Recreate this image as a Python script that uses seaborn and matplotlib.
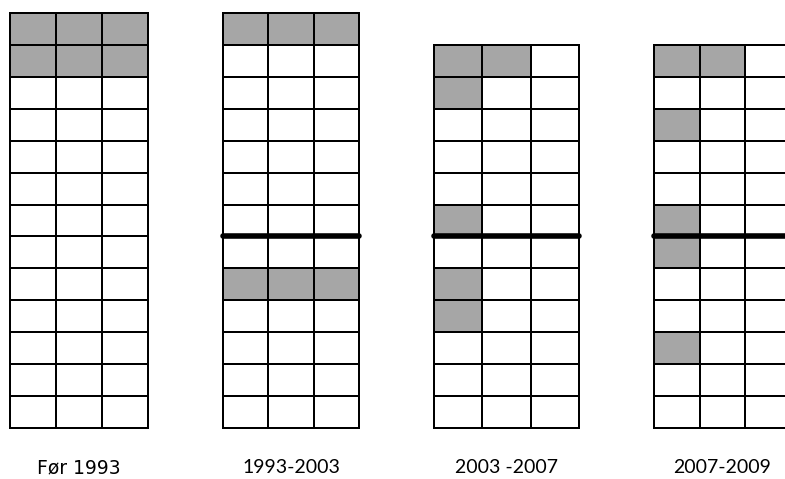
import numpy as np
import pandas as pd
import matplotlib
matplotlib.use("Agg")
import matplotlib.pyplot as plt
import seaborn as sns

from matplotlib.colors import ListedColormap

# --------------------------------------------------------------------------------
# Data: one grid per period, gray cells given as (row, col) from the top
# --------------------------------------------------------------------------------
periods     = ["Før 1993", "1993-2003", "2003 -2007", "2007-2009"]
n_rows      = [13, 13, 12, 12]
n_cols      = [3, 3, 3, 3]
gray_cells  = [
    [(0, 0), (0, 1), (0, 2), (1, 0), (1, 1), (1, 2)],
    [(0, 0), (0, 1), (0, 2), (8, 0), (8, 1), (8, 2)],
    [(0, 0), (0, 1), (1, 0), (5, 0), (7, 0), (8, 0)],
    [(0, 0), (0, 1), (2, 0), (5, 0), (6, 0), (9, 0)],
]
divider_row = [None, 7, 6, 6]   # thick line drawn above this row
label_fonts = [["DejaVu Sans"], ["Lato"], ["Lato"], ["Lato"]]
label_sizes = [13.5, 14, 14, 14]

# Axes placement in pixels (left, top, width, height) -> figure fractions
W, H = 785, 479
boxes = [(10, 13, 138, 415), (223, 13, 136, 415), (434, 45, 145, 383), (654, 45, 137, 383)]

GRAY  = "#a6a6a6"
cmap  = ListedColormap(["white", GRAY])

# ================================================================================
# Build the figure
# ================================================================================
sns.set_style("white")
fig = plt.figure(figsize=(W / 100, H / 100), dpi=100)

for i, label in enumerate(periods):
    grid = np.zeros((n_rows[i], n_cols[i]))
    for r, c in gray_cells[i]:
        grid[r, c] = 1
    df = pd.DataFrame(grid)

    x, y, w, h = boxes[i]
    ax = fig.add_axes([x / W, 1 - (y + h) / H, w / W, h / H])

    sns.heatmap(df, ax=ax, cmap=cmap, vmin=0, vmax=1, cbar=False,
                linewidths=1.4, linecolor="black", square=False)
    ax.collections[0].set_clip_on(False)

    # Outer frame
    for s in ax.spines.values():
        s.set_visible(True)
        s.set_linewidth(1.4)
        s.set_color("black")

    # Thick divider line
    if divider_row[i] is not None:
        ax.axhline(divider_row[i], color="black", linewidth=4, clip_on=False, zorder=10)

    ax.set_xticks([]); ax.set_yticks([])
    ax.set_ylabel("")
    ax.set_xlabel(label, fontsize=label_sizes[i], family=label_fonts[i], labelpad=22, color="black")

fig.savefig("out.png", dpi=100)
